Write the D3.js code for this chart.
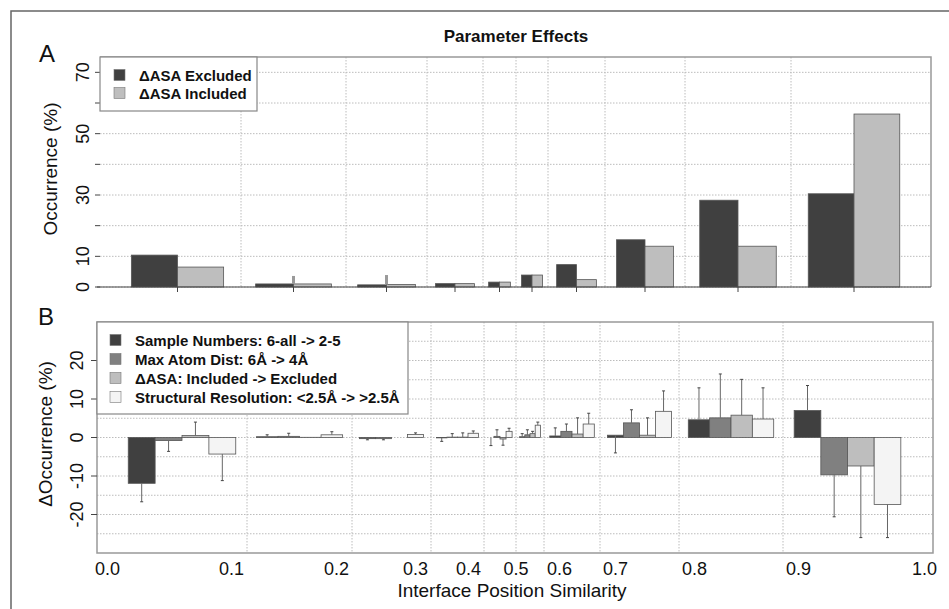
<!DOCTYPE html>
<html>
<head>
<meta charset="utf-8">
<script src="https://cdn.jsdelivr.net/npm/d3@7"></script>
<style>
body { margin: 0; background: #fff; }
text { font-family: "Liberation Sans", Arial, sans-serif; fill: #111; }
.grid { stroke: #bcbcbc; stroke-width: 1; stroke-dasharray: 1.5,1.5; fill: none; }
.frame { stroke: #999; stroke-width: 1.5; fill: none; }
</style>
</head>
<body>
<svg id="chart" width="949" height="609"></svg>
<script>
// bin edges on the x axis and their labels
var binEdges = [0.0, 0.1, 0.2, 0.3, 0.4, 0.5, 0.6, 0.7, 0.8, 0.9, 1.0];
var tickLabels = ["0.0","0.1","0.2","0.3","0.4","0.5","0.6","0.7","0.8","0.9","1.0"];

// panel A - occurrence (%) per bin
var keysA = ["\u0394ASA Excluded", "\u0394ASA Included"];
var asaExcluded = [10.4, 1.0, 0.7, 1.1, 1.6, 3.9, 7.3, 15.4, 28.3, 30.4];
var asaIncluded = [6.5, 1.0, 0.8, 1.1, 1.6, 3.9, 2.4, 13.3, 13.3, 56.4];
var asaIncludedErr = [0, 2.6, 3.1, 0, 0, 0, 0, 0, 0, 0];
var yTicksA = [0, 10, 30, 50, 70];

// panel B - change in occurrence (%) per bin, errors are signed
var keysB = ["Sample Numbers: 6-all -> 2-5", "Max Atom Dist: 6\u00c5 -> 4\u00c5",
  "\u0394ASA: Included -> Excluded", "Structural Resolution: <2.5\u00c5 -> >2.5\u00c5"];
var sampleNumbers =    [-11.9, 0.2, -0.3, -0.1, 0.0, 0.2, 0.4, 0.6, 4.6, 7.0];
var sampleNumbersErr = [-4.8, 0.5, -0.3, -0.9, -2.1, 0.8, 2.1, -4.6, 8.3, 6.5];
var maxAtomDist =      [-0.8, 0.3, -0.3, 0.1, 0.3, 0.7, 1.6, 3.8, 5.1, -9.7];
var maxAtomDistErr =   [-2.8, 0.8, -0.3, 0.9, 1.7, 1.3, 1.9, 3.4, 11.4, -10.9];
var asaChange =        [0.5, 0.05, 0.0, 0.1, -0.4, 1.0, 0.9, 0.6, 5.8, -7.4];
var asaChangeErr =     [3.5, 0, 0, 1.1, -1.6, 0.6, 4.2, 4.5, 9.3, -18.6];
var resolution =       [-4.3, 0.7, 0.8, 1.1, 1.6, 3.2, 3.5, 6.8, 4.8, -17.4];
var resolutionErr =    [-6.9, 0.8, 0.4, 0.6, 0.8, 0.8, 2.8, 5.3, 8.1, -8.6];
var yTicksB = [-20, -10, 0, 10, 20];

var svg = d3.select("#chart");

// outer frame (cropped at right/bottom)
svg.append("rect").attr("x", 11).attr("y", 11).attr("width", 960).attr("height", 620)
  .attr("fill", "none").attr("stroke", "#666").attr("stroke-width", 1.5);

svg.append("text").attr("x", 516).attr("y", 42).attr("text-anchor", "middle")
  .attr("font-size", "17px").attr("font-weight", "bold").text("Parameter Effects");

// ---------- panel A ----------
var boxA = {left: 100, right: 931, top: 57, bottom: 287};
var xA = d3.scaleLinear().domain(binEdges)
  .range([114, 241, 346, 427, 483, 516, 548, 605, 685, 791, 917]);
var yA = d3.scaleLinear().domain([0, 75]).range([boxA.bottom, boxA.top]);
var colorA = d3.scaleOrdinal().domain(keysA).range(["#404040", "#bebebe"]);

var gA = svg.append("g");
gA.selectAll(".hgrid").data(d3.range(0, 80, 10)).enter().append("line")
  .attr("class", "grid")
  .attr("x1", boxA.left).attr("x2", boxA.right)
  .attr("y1", function(d) { return yA(d); }).attr("y2", function(d) { return yA(d); });
gA.selectAll(".vgrid").data(binEdges.slice(1, -1)).enter().append("line")
  .attr("class", "grid")
  .attr("x1", function(d) { return xA(d); }).attr("x2", function(d) { return xA(d); })
  .attr("y1", boxA.top).attr("y2", boxA.bottom);

var rowsA = asaExcluded.map(function(v, i) {
  var lo = xA(binEdges[i]), hi = xA(binEdges[i + 1]);
  var w = 0.75 * (hi - lo) - 3;
  return {i: i, cx: (lo + hi) / 2, w: w, values: [v, asaIncluded[i]], err: asaIncludedErr[i]};
});

var groupA = gA.selectAll(".groupA").data(rowsA).enter().append("g")
  .attr("transform", function(d) { return "translate(" + (d.cx - d.w / 2) + ",0)"; });
groupA.selectAll("rect").data(function(d) {
    return d.values.map(function(v, j) { return {v: v, j: j, w: d.w / 2}; });
  }).enter().append("rect")
  .attr("x", function(d) { return d.j * d.w; })
  .attr("width", function(d) { return d.w; })
  .attr("y", function(d) { return yA(d.v); })
  .attr("height", function(d) { return yA(0) - yA(d.v); })
  .attr("fill", function(d) { return colorA(keysA[d.j]); })
  .attr("stroke", "#555").attr("stroke-width", 0.8);

// error marks on included bars
gA.selectAll(".errA").data(rowsA.filter(function(d) { return d.err > 0; })).enter().append("rect")
  .attr("x", function(d) { return d.cx - 1.5; }).attr("width", 3)
  .attr("y", function(d) { return yA(d.values[1] + d.err); })
  .attr("height", function(d) { return yA(d.values[1]) - yA(d.values[1] + d.err); })
  .attr("fill", "#9a9a9a");

// borders and axis
gA.append("path").attr("class", "frame")
  .attr("d", "M" + boxA.left + "," + boxA.top + "H" + boxA.right + "V" + boxA.bottom);
gA.append("line").attr("x1", 97).attr("x2", boxA.right)
  .attr("y1", boxA.bottom).attr("y2", boxA.bottom).attr("stroke", "#444").attr("stroke-width", 1.2);
gA.selectAll(".xtickA").data(rowsA).enter().append("line")
  .attr("x1", function(d) { return d.cx; }).attr("x2", function(d) { return d.cx; })
  .attr("y1", boxA.bottom).attr("y2", boxA.bottom + 5).attr("stroke", "#444");
gA.selectAll(".ytickA").data(d3.range(0, 80, 10)).enter().append("line")
  .attr("x1", boxA.left - 5).attr("x2", boxA.left)
  .attr("y1", function(d) { return yA(d); }).attr("y2", function(d) { return yA(d); })
  .attr("stroke", "#444");
gA.selectAll(".ylabA").data(yTicksA).enter().append("text")
  .attr("transform", function(d) { return "translate(89," + yA(d) + ") rotate(-90)"; })
  .attr("text-anchor", "middle").attr("font-size", "18px")
  .text(function(d) { return d; });
gA.append("text").attr("transform", "translate(57,169) rotate(-90)")
  .attr("text-anchor", "middle").attr("font-size", "19px").text("Occurrence (%)");
svg.append("text").attr("x", 39).attr("y", 62).attr("font-size", "24px").text("A");

// legend A
var legA = gA.append("g");
legA.append("rect").attr("x", 100).attr("y", 57).attr("width", 157).attr("height", 54)
  .attr("fill", "#fff").attr("stroke", "#888").attr("stroke-width", 1.2);
var legItemA = legA.selectAll(".legend").data(keysA).enter().append("g")
  .attr("transform", function(d, i) { return "translate(114," + (75 + i * 18) + ")"; });
legItemA.append("rect").attr("x", 0).attr("y", -5.5).attr("width", 11).attr("height", 11)
  .attr("fill", function(d) { return colorA(d); }).attr("stroke", "#777").attr("stroke-width", 0.6);
legItemA.append("text").attr("x", 25).attr("y", 5.5)
  .attr("font-size", "15px").attr("font-weight", "bold").text(function(d) { return d; });

// ---------- panel B ----------
var boxB = {left: 97, right: 933, top: 322, bottom: 553};
var xB = d3.scaleLinear().domain(binEdges)
  .range([117, 247, 352, 431, 484, 516, 544, 600, 679, 783, 912]);
var yB = d3.scaleLinear().domain([-30, 30]).range([boxB.bottom, boxB.top]);
var colorB = d3.scaleOrdinal().domain(keysB).range(["#404040", "#808080", "#bebebe", "#f4f4f4"]);

var seriesB = [sampleNumbers, maxAtomDist, asaChange, resolution];
var errorsB = [sampleNumbersErr, maxAtomDistErr, asaChangeErr, resolutionErr];

var gB = svg.append("g");
gB.selectAll(".hgrid").data(d3.range(-25, 30, 5)).enter().append("line")
  .attr("class", "grid")
  .attr("x1", boxB.left).attr("x2", boxB.right)
  .attr("y1", function(d) { return yB(d); }).attr("y2", function(d) { return yB(d); });
gB.selectAll(".vgrid").data(binEdges.slice(1, -1)).enter().append("line")
  .attr("class", "grid")
  .attr("x1", function(d) { return xB(d); }).attr("x2", function(d) { return xB(d); })
  .attr("y1", boxB.top).attr("y2", boxB.bottom);

var barsB = [];
binEdges.slice(0, -1).forEach(function(e, i) {
  var lo = xB(binEdges[i]), hi = xB(binEdges[i + 1]);
  var w = 0.85 * (hi - lo) - 3;
  var bw = w / seriesB.length;
  seriesB.forEach(function(s, j) {
    barsB.push({x: (lo + hi) / 2 - w / 2 + j * bw, w: bw, v: s[i], err: errorsB[j][i], key: keysB[j]});
  });
});

gB.selectAll(".barB").data(barsB).enter().append("rect")
  .attr("x", function(d) { return d.x; })
  .attr("width", function(d) { return d.w; })
  .attr("y", function(d) { return yB(Math.max(0, d.v)); })
  .attr("height", function(d) { return Math.abs(yB(d.v) - yB(0)); })
  .attr("fill", function(d) { return colorB(d.key); })
  .attr("stroke", "#555").attr("stroke-width", 0.8);

var errB = gB.selectAll(".errB").data(barsB.filter(function(d) { return d.err != 0; })).enter().append("g");
errB.append("line")
  .attr("x1", function(d) { return d.x + d.w / 2; }).attr("x2", function(d) { return d.x + d.w / 2; })
  .attr("y1", function(d) { return yB(d.v); }).attr("y2", function(d) { return yB(d.v + d.err); })
  .attr("stroke", "#666").attr("stroke-width", 1);
errB.append("line")
  .attr("x1", function(d) { return d.x + d.w / 2 - 1.5; }).attr("x2", function(d) { return d.x + d.w / 2 + 1.5; })
  .attr("y1", function(d) { return yB(d.v + d.err); }).attr("y2", function(d) { return yB(d.v + d.err); })
  .attr("stroke", "#444").attr("stroke-width", 1);

gB.append("rect").attr("class", "frame")
  .attr("x", boxB.left).attr("y", boxB.top)
  .attr("width", boxB.right - boxB.left).attr("height", boxB.bottom - boxB.top);
gB.selectAll(".ytickB").data(yTicksB).enter().append("line")
  .attr("x1", boxB.left - 6).attr("x2", boxB.left)
  .attr("y1", function(d) { return yB(d); }).attr("y2", function(d) { return yB(d); })
  .attr("stroke", "#444");
gB.selectAll(".ylabB").data(yTicksB).enter().append("text")
  .attr("transform", function(d) { return "translate(83," + yB(d) + ") rotate(-90)"; })
  .attr("text-anchor", "middle").attr("font-size", "18px")
  .text(function(d) { return d; });
gB.append("text").attr("transform", "translate(52,434) rotate(-90)")
  .attr("text-anchor", "middle").attr("font-size", "19px").text("\u0394Occurrence (%)");
svg.append("text").attr("x", 38).attr("y", 325).attr("font-size", "24px").text("B");

// x tick labels: end points sit on the box, the rest lean away from 0.5
gB.selectAll(".xlab").data(binEdges).enter().append("text")
  .attr("x", function(d, i) {
    if (i == 0) return boxB.left - 2;
    if (i == binEdges.length - 1) return boxB.right + 4;
    if (d < 0.5) return xB(d) - 3;
    if (d > 0.5) return xB(d) + 3;
    return xB(d);
  })
  .attr("y", 575)
  .attr("text-anchor", function(d, i) {
    if (i == 0) return "start";
    if (i == binEdges.length - 1) return "end";
    return d < 0.5 ? "end" : d > 0.5 ? "start" : "middle";
  })
  .attr("font-size", "18px")
  .text(function(d, i) { return tickLabels[i]; });
svg.append("text").attr("x", 512).attr("y", 597).attr("text-anchor", "middle")
  .attr("font-size", "19px").text("Interface Position Similarity");

// legend B
var legB = gB.append("g");
legB.append("rect").attr("x", 97).attr("y", 322).attr("width", 311).attr("height", 92)
  .attr("fill", "#fff").attr("stroke", "#888").attr("stroke-width", 1.2);
var legItemB = legB.selectAll(".legend").data(keysB).enter().append("g")
  .attr("transform", function(d, i) { return "translate(110," + (340 + i * 19) + ")"; });
legItemB.append("rect").attr("x", 0).attr("y", -5.5).attr("width", 11).attr("height", 11)
  .attr("fill", function(d) { return colorB(d); }).attr("stroke", "#777").attr("stroke-width", 0.6);
legItemB.append("text").attr("x", 25).attr("y", 5.5)
  .attr("font-size", "15px").attr("font-weight", "bold").text(function(d) { return d; });
</script>
</body>
</html>
